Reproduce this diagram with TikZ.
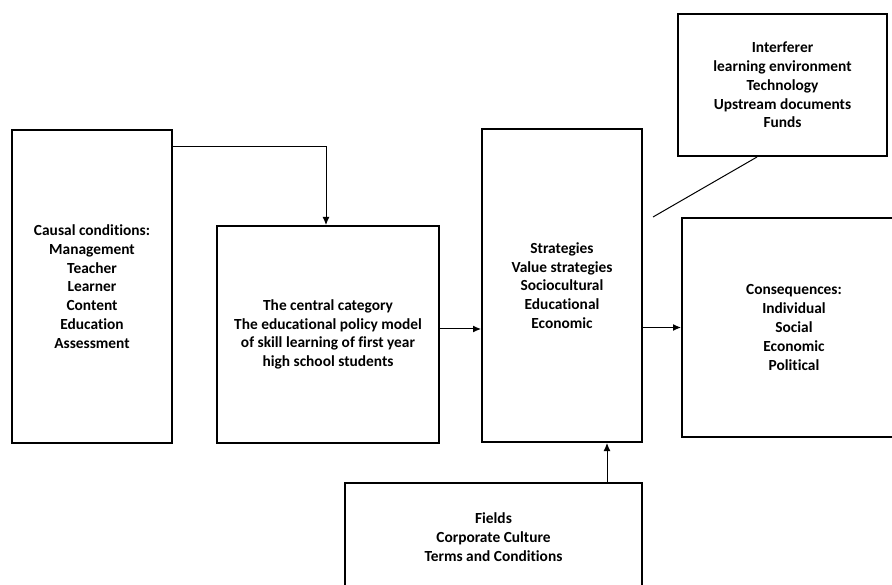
\documentclass[tikz,border=0pt]{standalone}
\usepackage{fontspec}
\setmainfont{Carlito}[Ligatures={NoCommon}]
\usetikzlibrary{arrows.meta,calc}
\begin{document}
\begin{tikzpicture}[x=1pt,y=-1pt,
  box/.style={draw,line width=2pt,rectangle,align=center,inner sep=0pt,
    font=\bfseries\fontsize{15.4}{18.8}\selectfont},
  conn/.style={line width=1pt},
  arr/.style={conn,-{Latex[length=8pt,width=7pt]}}]
\useasboundingbox (0,0) rectangle (892,585);
\clip (0,0) rectangle (892,585);
\node[box,minimum width=160,minimum height=313] (causal) at (92,286.5)
  {Causal conditions:\\Management\\Teacher\\Learner\\Content\\Education\\Assessment};
\node[box,minimum width=222,minimum height=217] (central) at (328,334.5)
  {The central category\\The educational policy model\\of skill learning of first year\\high school students};
\node[box,minimum width=160,minimum height=313] (strat) at (562,285.5)
  {Strategies\\Value strategies\\Sociocultural\\Educational\\Economic};
\node[box,minimum width=209,minimum height=142] (interf) at (782.5,85)
  {Interferer\\learning environment\\Technology\\Upstream documents\\Funds};
\node[box,minimum width=224,minimum height=219] (conseq) at (794,327.5)
  {Consequences:\\Individual\\Social\\Economic\\Political};
\node[box,minimum width=297,minimum height=108] (fields) at (493.5,537)
  {Fields\\Corporate Culture\\Terms and Conditions};
\coordinate (free) at (653,217);
\draw[arr] ([yshift=-18pt]causal.north east) -| ([xshift=-2pt]central.north);
\draw[arr] ([yshift=5.5pt]central.east) -- ([yshift=5.5pt]central.east -| strat.west);
\draw[arr] (conseq.west -| strat.east) -- (conseq.west);
\draw[arr] ([xshift=113.5pt]fields.north) -- ([xshift=113.5pt]fields.north |- strat.south);
\draw[conn] ([xshift=-25.5pt]interf.south) -- (free);
\end{tikzpicture}
\end{document}
